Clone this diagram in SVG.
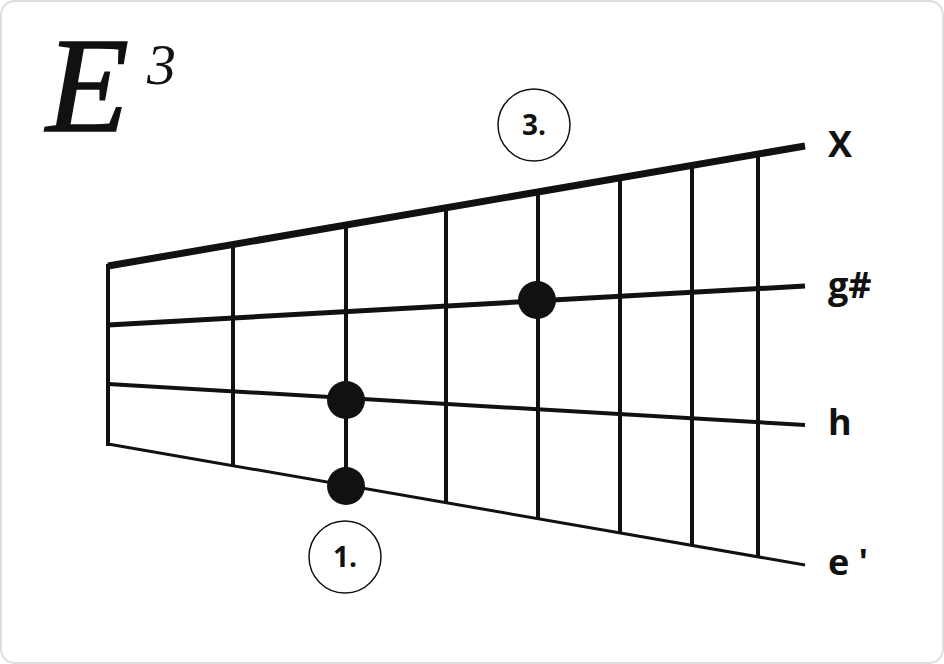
<svg xmlns="http://www.w3.org/2000/svg" width="944" height="664" viewBox="0 0 944 664">
<style>
.fret{stroke:#111;stroke-width:4;fill:none}
.lbl{font-family:"Open Sans","Noto Sans",sans-serif;font-weight:bold;font-size:36px;fill:#111}
.num{font-family:"Open Sans","Noto Sans",sans-serif;font-weight:bold;font-size:28px;fill:#111;text-anchor:middle}
.ring{fill:#fff;stroke:#111;stroke-width:1.5}
.dot{fill:#111}
</style>
<rect x="1" y="1" width="942" height="662" rx="14" fill="#fff" stroke="#ddd" stroke-width="2"/>
<g id="title">
<text x="46" y="131" font-family="Liberation Serif,serif" font-style="italic" font-size="136" fill="#111" stroke="#111" stroke-width="1.5">E</text>
<text x="147" y="84" font-family="Liberation Serif,serif" font-style="italic" font-size="58" fill="#111">3</text>
</g>
<g id="connectors">
<line class="fret" x1="108" y1="264" x2="108" y2="446"/>
<line class="fret" x1="233" y1="244.5" x2="233" y2="465.7"/>
<line class="fret" x1="346" y1="225" x2="346" y2="485.3"/>
<line class="fret" x1="446" y1="207.8" x2="446" y2="502.7"/>
<line class="fret" x1="538" y1="192" x2="538" y2="518.6"/>
<line class="fret" x1="620" y1="177.9" x2="620" y2="532.9"/>
<line class="fret" x1="692" y1="165.5" x2="692" y2="545.4"/>
<line class="fret" x1="758" y1="154.1" x2="758" y2="556.8"/>
<line x1="108" y1="266" x2="805" y2="146" stroke="#111" stroke-width="7"/>
<line x1="108" y1="325" x2="805" y2="286" stroke="#111" stroke-width="5"/>
<line x1="108" y1="384" x2="805" y2="425" stroke="#111" stroke-width="4"/>
<line x1="108" y1="444" x2="805" y2="565" stroke="#111" stroke-width="3"/>
</g>
<g id="dot-g"><circle class="dot" cx="537" cy="300" r="19"/></g>
<g id="dot-h"><circle class="dot" cx="346" cy="400" r="19"/></g>
<g id="dot-e"><circle class="dot" cx="346" cy="486" r="19"/></g>
<g id="finger-3"><circle class="ring" cx="534" cy="125" r="36"/><text class="num" x="534" y="135">3.</text></g>
<g id="finger-1"><circle class="ring" cx="345" cy="557" r="36"/><text class="num" x="345" y="567">1.</text></g>
<g id="labels">
<text class="lbl" x="828" y="157">X</text>
<text class="lbl" x="828" y="298">g#</text>
<text class="lbl" x="828" y="435">h</text>
<text class="lbl" x="828" y="575">e '</text>
</g>
</svg>
